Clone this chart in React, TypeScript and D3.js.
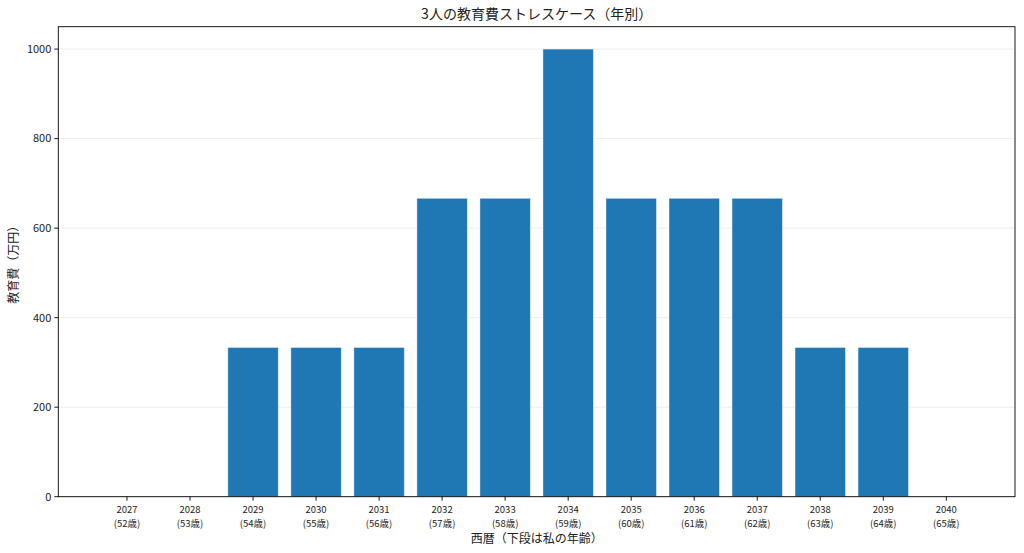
import React from 'react';
import * as d3 from 'd3';

const years = [2027, 2028, 2029, 2030, 2031, 2032, 2033, 2034, 2035, 2036, 2037, 2038, 2039, 2040];
const ages = [52, 53, 54, 55, 56, 57, 58, 59, 60, 61, 62, 63, 64, 65];
const costs = [0, 0, 333.33, 333.33, 333.33, 666.67, 666.67, 1000, 666.67, 666.67, 666.67, 333.33, 333.33, 0];
const yTicks = [0, 200, 400, 600, 800, 1000];

const W = 1024;
const H = 553;
const margin = { left: 58.3, right: 9, top: 26.7, bottom: 56.3 };
const FONT = '"Noto Sans CJK JP", "Noto Sans", sans-serif';

const App: React.FC = () => {
  const barW = 0.8;
  const lo = years[0] - barW / 2;
  const hi = years[years.length - 1] + barW / 2;
  const pad = (hi - lo) * 0.05;

  const x = d3.scaleLinear().domain([lo - pad, hi + pad]).range([margin.left, W - margin.right]);
  const y = d3.scaleLinear().domain([0, 1050]).range([H - margin.bottom, margin.top]);

  const [x0, x1] = x.range();
  const [yb, yt] = y.range();

  return (
    <svg width={W} height={H} style={{ position: 'absolute', left: 0, top: 0, background: '#fff' }} fontFamily={FONT}>
      {/* grid */}
      {yTicks.map(t => (
        <line key={'g' + t} x1={x0} x2={x1} y1={y(t)} y2={y(t)} stroke="#b0b0b0" strokeOpacity={0.3} strokeWidth={0.8} />
      ))}

      {/* bars */}
      {years.map((yr, i) => (
        <rect
          key={yr}
          x={x(yr - barW / 2)}
          y={y(costs[i])}
          width={x(yr + barW / 2) - x(yr - barW / 2)}
          height={yb - y(costs[i])}
          fill="#1f77b4"
          stroke="#ffffff"
          strokeOpacity={costs[i] > 0 ? 0.5 : 0}
          strokeWidth={0.8}
        />
      ))}

      {/* frame */}
      <rect x={x0} y={yt} width={x1 - x0} height={yb - yt} fill="none" stroke="#000" strokeWidth={0.9} />

      {/* y ticks */}
      {yTicks.map(t => (
        <g key={'y' + t}>
          <line x1={x0 - 4} x2={x0} y1={y(t)} y2={y(t)} stroke="#000" strokeWidth={0.9} />
          <text x={x0 - 7} y={y(t)} dy="0.35em" textAnchor="end" fontSize={11} fill="#222">{t}</text>
        </g>
      ))}

      {/* x ticks: year over age */}
      {years.map((yr, i) => (
        <g key={'x' + yr}>
          <line x1={x(yr)} x2={x(yr)} y1={yb} y2={yb + 4} stroke="#000" strokeWidth={0.9} />
          <text x={x(yr)} y={yb + 16} textAnchor="middle" fontSize={9.5} fill="#222">{yr}</text>
          <text x={x(yr)} y={yb + 30} textAnchor="middle" fontSize={9.5} fill="#222">({ages[i]}歳)</text>
        </g>
      ))}

      {/* labels */}
      <text x={(x0 + x1) / 2} y={19} textAnchor="middle" fontSize={14} fill="#222">3人の教育費ストレスケース（年別）</text>
      <text x={(x0 + x1) / 2} y={543} textAnchor="middle" fontSize={12} fill="#222">西暦（下段は私の年齢）</text>
      <text transform={`translate(18, ${(yb + yt) / 2}) rotate(-90)`} textAnchor="middle" fontSize={12} fill="#222">教育費（万円）</text>
    </svg>
  );
};

export default App;
